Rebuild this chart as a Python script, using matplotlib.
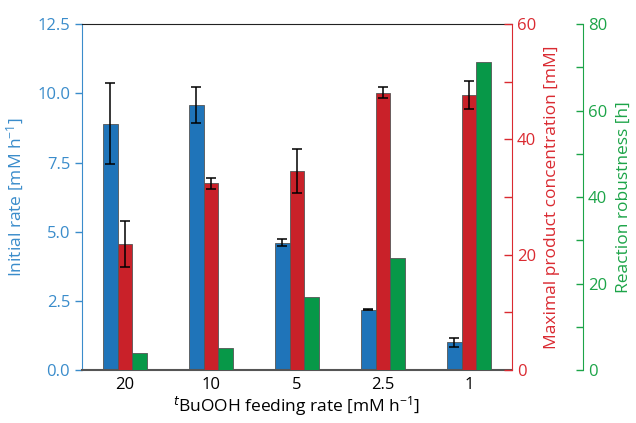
import matplotlib
matplotlib.use("Agg")
import matplotlib.pyplot as plt
import numpy as np

plt.rcParams['font.family'] = ['Open Sans', 'DejaVu Sans']
plt.rcParams['mathtext.default'] = 'regular'

# data
feed_rates = ["20", "10", "5", "2.5", "1"]
init_rate = [8.9, 9.57, 4.6, 2.19, 1.0]
init_rate_err = [1.47, 0.65, 0.12, 0.02, 0.15]
max_conc = [21.8, 32.4, 34.5, 48.1, 47.7]
max_conc_err = [4.0, 0.95, 3.85, 0.95, 2.4]
robustness = [4.0, 5.0, 16.9, 26.0, 71.2]

c_blue = "#1f74b9"
c_red = "#c92129"
c_green = "#079848"
t_blue = "#3a8ccb"
t_red = "#da2a31"
t_green = "#1ca448"
edge = "#555555"

fig = plt.figure(figsize=(6.36, 4.23), dpi=100)
ax = fig.add_axes([0.129, 0.125, 0.676, 0.818])
ax2 = ax.twinx()
ax3 = ax.twinx()

x = np.arange(len(feed_rates))
w = 0.17
ekw = dict(ecolor="black", elinewidth=1.1, capsize=3.5, capthick=1.1)

ax.bar(x - w, init_rate, w, color=c_blue, edgecolor=edge, linewidth=0.6,
       yerr=init_rate_err, error_kw=ekw, zorder=2)
ax2.bar(x, max_conc, w, color=c_red, edgecolor=edge, linewidth=0.6,
        yerr=max_conc_err, error_kw=ekw, zorder=2)
ax3.bar(x + w, robustness, w, color=c_green, edgecolor=edge, linewidth=0.6, zorder=2)

ax.set_xlim(-0.5, 4.5)
ax.set_ylim(0, 12.5)
ax2.set_ylim(0, 60)
ax3.set_ylim(0, 80)

ax.set_xticks(x)
ax.set_xticklabels(feed_rates, fontsize=12)
ax.tick_params(axis='x', length=0, pad=5)
ax.set_xlabel(r"$^{\mathit{t}}$BuOOH feeding rate [mM h$^{-1}$]", fontsize=12.5, labelpad=1)

# left axis (blue)
ax.set_yticks([0, 2.5, 5, 7.5, 10, 12.5])
ax.set_yticklabels(["0.0", "2.5", "5.0", "7.5", "10.0", "12.5"])
ax.tick_params(axis='y', colors=t_blue, labelsize=12, direction='out', length=5, width=1)
ax.set_ylabel("Initial rate [mM h$^{-1}$]", color=t_blue, fontsize=12.5, labelpad=8)
ax.spines['left'].set_color(t_blue)
ax.spines['top'].set_color("#222222")
ax.spines['bottom'].set_color("#555555")
ax.spines['bottom'].set_linewidth(1.5)
ax.spines['right'].set_visible(False)

# red axis
ax2.set_yticks([0, 20, 40, 60])
ax2.set_yticks([10, 30, 50], minor=True)
ax2.tick_params(axis='y', which='both', colors=t_red, labelsize=12, direction='in', length=6, width=1)
ax2.set_ylabel("Maximal product concentration [mM]", color=t_red, fontsize=12.5, labelpad=6)
ax2.spines['right'].set_color(t_red)
for s in ['top', 'bottom', 'left']:
    ax2.spines[s].set_visible(False)

# green axis
ax3.spines['right'].set_position(('axes', 1.165))
ax3.set_yticks([0, 20, 40, 60, 80])
ax3.set_yticks([10, 30, 50, 70], minor=True)
ax3.tick_params(axis='y', which='both', colors=t_green, labelsize=12, direction='in', length=5, width=1)
ax3.set_ylabel("Reaction robustness [h]", color=t_green, fontsize=12.5, labelpad=6)
ax3.spines['right'].set_color(t_green)
for s in ['top', 'bottom', 'left']:
    ax3.spines[s].set_visible(False)

fig.savefig("out.png", dpi=100)
